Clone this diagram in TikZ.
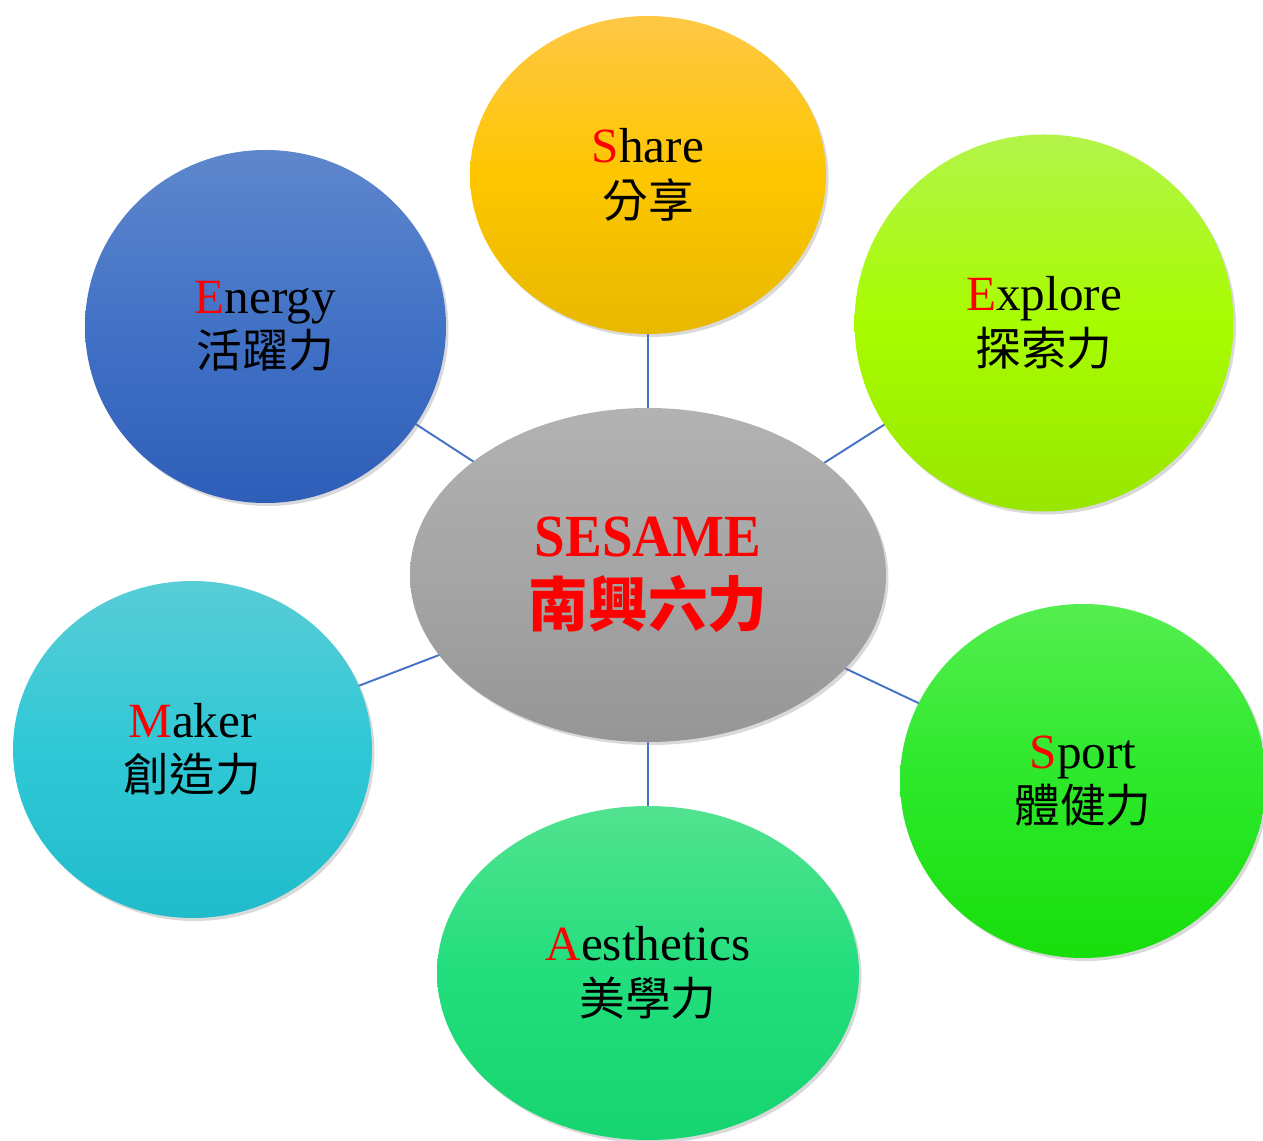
\documentclass[tikz,border=0pt]{standalone}
\usepackage{xcolor}
\usepackage{fontspec}
\setmainfont{Liberation Serif}
\newfontfamily\cjk{Noto Sans CJK TC}
\usetikzlibrary{shapes,positioning,shadows,backgrounds}

\definecolor{linkblue}{HTML}{4472C4}
\definecolor{coreTop}{HTML}{B2B2B2}
\definecolor{coreMid}{HTML}{A5A5A5}
\definecolor{coreBot}{HTML}{969696}
\definecolor{shareTop}{HTML}{FFC846}
\definecolor{shareMid}{HTML}{FDC600}
\definecolor{shareBot}{HTML}{E8B800}
\definecolor{exploreTop}{HTML}{B3F44A}
\definecolor{exploreMid}{HTML}{A8FC00}
\definecolor{exploreBot}{HTML}{98E600}
\definecolor{sportTop}{HTML}{55EE50}
\definecolor{sportMid}{HTML}{2CE82A}
\definecolor{sportBot}{HTML}{18DE0C}
\definecolor{aestTop}{HTML}{52E290}
\definecolor{aestMid}{HTML}{22DE7C}
\definecolor{aestBot}{HTML}{16D470}
\definecolor{makerTop}{HTML}{58CDD6}
\definecolor{makerMid}{HTML}{30C8D6}
\definecolor{makerBot}{HTML}{20BCCB}
\definecolor{energyTop}{HTML}{5E87CC}
\definecolor{energyMid}{HTML}{4272C6}
\definecolor{energyBot}{HTML}{2F5EB9}

\newcommand{\initial}[1]{\textcolor{red}{#1}}
\newcommand{\zh}[1]{{\cjk\fontsize{26}{26}\selectfont #1}}

\begin{document}
\begin{tikzpicture}[
        bubble/.style={ellipse, inner sep=0pt, align=center, font=\fontsize{28}{31}\selectfont,
            drop shadow={shadow xshift=0.05cm, shadow yshift=-0.06cm, opacity=0.3}},
        link/.style={draw=linkblue, line width=1.1pt}]
        \useasboundingbox (0,0) rectangle (25.26,22.8);

        \node [bubble, minimum width=9.52cm, minimum height=6.68cm, top color=coreTop, bottom color=coreBot, middle color=coreMid,
            font=\fontsize{34}{40}\bfseries, text=red] (core) at (12.96,11.30) {\scalebox{0.92}[1]{SESAME}\\{\cjk 南興六力}};

        \node [bubble, minimum width=7.12cm, minimum height=6.36cm, top color=shareTop, bottom color=shareBot, middle color=shareMid] (share) at (12.96,19.30) {\initial{S}hare\\\zh{分享}};
        \node [bubble, minimum width=7.58cm, minimum height=7.54cm, top color=exploreTop, bottom color=exploreBot, middle color=exploreMid] (explore) at (20.88,16.34) {\initial{E}xplore\\\zh{探索力}};
        \node [bubble, minimum width=7.32cm, minimum height=7.08cm, top color=sportTop, bottom color=sportBot, middle color=sportMid] (sport) at (21.66,7.18) {\initial{S}port\\\zh{體健力}};
        \node [bubble, minimum width=8.44cm, minimum height=6.68cm, top color=aestTop, bottom color=aestBot, middle color=aestMid] (aesthetics) at (12.96,3.34) {\initial{A}esthetics\\\zh{美學力}};
        \node [bubble, minimum width=7.18cm, minimum height=6.74cm, top color=makerTop, bottom color=makerBot, middle color=makerMid] (maker) at (3.85,7.81) {\initial{M}aker\\\zh{創造力}};
        \node [bubble, minimum width=7.22cm, minimum height=7.06cm, top color=energyTop, bottom color=energyBot, middle color=energyMid] (energy) at (5.31,16.27) {\initial{E}nergy\\\zh{活躍力}};

        % spokes behind the bubbles
        \begin{pgfonlayer}{background}
            \foreach \n in {share,explore,sport,aesthetics,maker,energy}
                \draw [link] (core.center) -- (\n.center);
        \end{pgfonlayer}
    \end{tikzpicture}
\end{document}
